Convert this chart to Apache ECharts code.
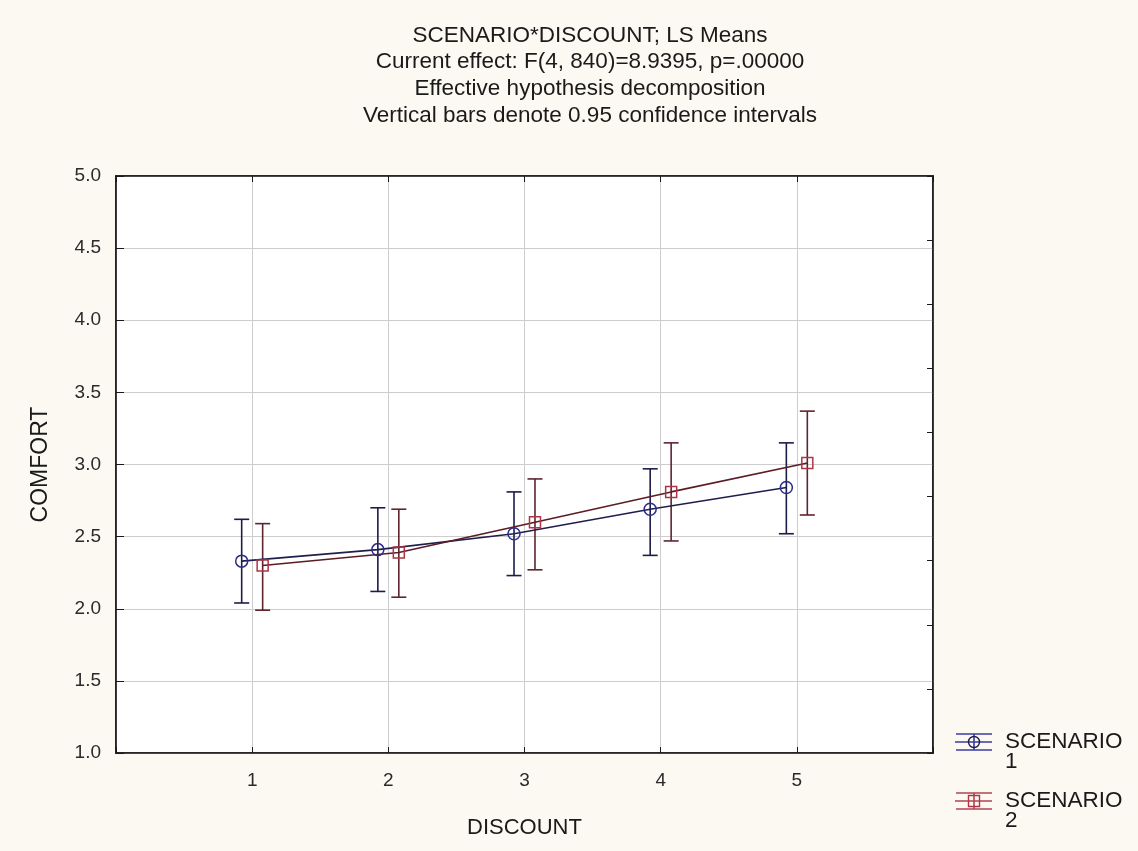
<!DOCTYPE html>
<html>
<head>
<meta charset="utf-8">
<script src="https://cdn.jsdelivr.net/npm/echarts@6/dist/echarts.min.js"></script>
<style>
  html, body { margin: 0; padding: 0; background: #fbf9f2; }
  #chart { width: 1138px; height: 851px; }
</style>
</head>
<body>
<div id="chart"></div>
<script>
// LS means of COMFORT by DISCOUNT level, one series per SCENARIO, with 95% CIs
const discount = [1, 2, 3, 4, 5];

const s1Mean  = [2.33, 2.41, 2.52, 2.69, 2.84];
const s1Lower = [2.04, 2.12, 2.23, 2.37, 2.52];
const s1Upper = [2.62, 2.70, 2.81, 2.97, 3.15];

const s2Mean  = [2.30, 2.39, 2.60, 2.81, 3.01];
const s2Lower = [1.99, 2.08, 2.27, 2.47, 2.65];
const s2Upper = [2.59, 2.69, 2.90, 3.15, 3.37];

const yTicks = [1.0, 1.5, 2.0, 2.5, 3.0, 3.5, 4.0, 4.5, 5.0];

const titleLines = [
  'SCENARIO*DISCOUNT; LS Means',
  'Current effect: F(4, 840)=8.9395, p=.00000',
  'Effective hypothesis decomposition',
  'Vertical bars denote 0.95 confidence intervals'
];
const seriesNames = ['SCENARIO\n1', 'SCENARIO\n2'];

// horizontal dodge so the two scenarios do not overlap
const DODGE = 0.077;
const FONT = "'Liberation Sans', Arial, sans-serif";

const C1 = { line: '#1f1f4e', bar: '#1c1c48', mark: '#2c2c8c', legend: '#3a3aa0' };
const C2 = { line: '#5c1c24', bar: '#5e2430', mark: '#b03446', legend: '#b04454' };

function points(mean, shift) {
  return discount.map((d, i) => [d + shift, mean[i]]);
}
function intervals(lo, hi, shift) {
  return discount.map((d, i) => [d + shift, lo[i], hi[i]]);
}

function errorBar(color) {
  return function (params, api) {
    const x = api.value(0);
    const top = api.coord([x, api.value(2)]);
    const bot = api.coord([x, api.value(1)]);
    const cap = 7.5;
    const style = { stroke: color, lineWidth: 1.6 };
    return {
      type: 'group',
      children: [
        { type: 'line', shape: { x1: top[0], y1: top[1], x2: bot[0], y2: bot[1] }, style },
        { type: 'line', shape: { x1: top[0] - cap, y1: top[1], x2: top[0] + cap, y2: top[1] }, style },
        { type: 'line', shape: { x1: bot[0] - cap, y1: bot[1], x2: bot[0] + cap, y2: bot[1] }, style }
      ]
    };
  };
}

function legendItem(y, c, isCircle, label) {
  const x = 974;
  const st = { stroke: c.legend, lineWidth: 1.6 };
  const marker = isCircle
    ? { type: 'circle', shape: { cx: x, cy: y, r: 5.5 }, style: { fill: 'none', stroke: c.bar, lineWidth: 1.4 } }
    : { type: 'rect', shape: { x: x - 5.5, y: y - 5.5, width: 11, height: 11 }, style: { fill: 'none', stroke: c.mark, lineWidth: 1.4 } };
  return [
    { type: 'line', shape: { x1: 956, y1: y - 8, x2: 992, y2: y - 8 }, style: st },
    { type: 'line', shape: { x1: 955, y1: y, x2: 992, y2: y }, style: st },
    { type: 'line', shape: { x1: 956, y1: y + 8, x2: 992, y2: y + 8 }, style: st },
    { type: 'line', shape: { x1: x, y1: y - 8, x2: x, y2: y + 8 }, style: st },
    marker,
    { type: 'text', style: { text: label, x: 1005, y: y - 10.5, fill: '#1a1a1a', font: '22.5px ' + FONT, lineHeight: 20.5, textAlign: 'left', textVerticalAlign: 'top' } }
  ];
}

const chart = echarts.init(document.getElementById('chart'));

const axisLine = { show: true, onZero: false, lineStyle: { color: '#1a1a1a', width: 1.6 } };

chart.setOption({
  backgroundColor: '#fbf9f2',
  animation: false,
  grid: { left: 116, right: 205, top: 176, bottom: 98, show: true, backgroundColor: '#ffffff', borderColor: '#1a1a1a', borderWidth: 1.6 },
  graphic: [
    { type: 'text', style: { text: titleLines.join('\n'), x: 590, y: 22, fill: '#1a1a1a', font: '22.5px ' + FONT, lineHeight: 26.7, textAlign: 'center', textVerticalAlign: 'top' } },
    ...legendItem(742, C1, true, seriesNames[0]),
    ...legendItem(801, C2, false, seriesNames[1])
  ],
  xAxis: [
    {
      type: 'value', position: 'bottom', min: 0, max: 6, interval: 1,
      name: 'DISCOUNT', nameLocation: 'middle', nameGap: 64,
      nameTextStyle: { fontFamily: FONT, fontSize: 22, color: '#1a1a1a' },
      axisLine,
      axisTick: { inside: true, length: 6, lineStyle: { color: '#1a1a1a' } },
      axisLabel: { margin: 18, fontFamily: FONT, fontSize: 19, color: '#2a2a2a',
        formatter: v => (v >= discount[0] && v <= discount[discount.length - 1]) ? String(v) : '' },
      splitLine: { show: true, lineStyle: { color: '#cdcdcd', width: 1 } }
    },
    {
      type: 'value', position: 'top', min: 0, max: 6, interval: 1,
      axisLine,
      axisTick: { inside: true, length: 6, lineStyle: { color: '#1a1a1a' } },
      axisLabel: { show: false },
      splitLine: { show: false }
    }
  ],
  yAxis: [
    {
      type: 'value', position: 'left', min: yTicks[0], max: yTicks[yTicks.length - 1], interval: 0.5,
      name: 'COMFORT', nameLocation: 'middle', nameGap: 64,
      nameTextStyle: { fontFamily: FONT, fontSize: 23, color: '#1a1a1a' },
      axisLine,
      axisTick: { inside: true, length: 8, lineStyle: { color: '#1a1a1a' } },
      axisLabel: { margin: 15, fontFamily: FONT, fontSize: 19, color: '#2a2a2a', formatter: v => v.toFixed(1) },
      splitLine: { show: true, lineStyle: { color: '#cdcdcd', width: 1 } }
    },
    {
      type: 'value', position: 'right', min: 0, max: 9, interval: 1,
      axisLine,
      axisTick: { inside: true, length: 6, lineStyle: { color: '#1a1a1a' } },
      axisLabel: { show: false },
      splitLine: { show: false }
    }
  ],
  series: [
    {
      type: 'custom', name: 'CI 1', xAxisIndex: 0, yAxisIndex: 0, z: 2,
      renderItem: errorBar(C1.bar), encode: { x: 0, y: [1, 2] },
      data: intervals(s1Lower, s1Upper, -DODGE)
    },
    {
      type: 'custom', name: 'CI 2', xAxisIndex: 0, yAxisIndex: 0, z: 2,
      renderItem: errorBar(C2.bar), encode: { x: 0, y: [1, 2] },
      data: intervals(s2Lower, s2Upper, DODGE)
    },
    {
      type: 'line', name: seriesNames[0], xAxisIndex: 0, yAxisIndex: 0, z: 3,
      data: points(s1Mean, -DODGE),
      lineStyle: { color: C1.line, width: 1.6 },
      symbol: 'circle', symbolSize: 12,
      itemStyle: { color: 'rgba(0,0,0,0)', borderColor: C1.mark, borderWidth: 1.5 }
    },
    {
      type: 'line', name: seriesNames[1], xAxisIndex: 0, yAxisIndex: 0, z: 3,
      data: points(s2Mean, DODGE),
      lineStyle: { color: C2.line, width: 1.6 },
      symbol: 'rect', symbolSize: 11,
      itemStyle: { color: 'rgba(0,0,0,0)', borderColor: C2.mark, borderWidth: 1.5 }
    }
  ]
});
</script>
</body>
</html>
